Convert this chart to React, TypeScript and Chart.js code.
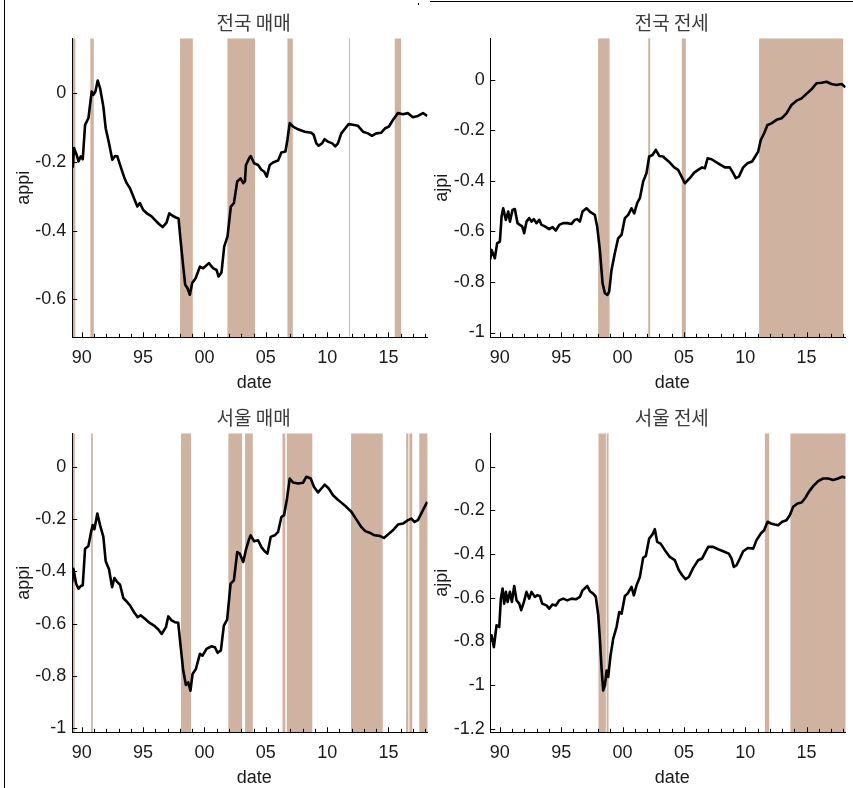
import React, { useEffect, useRef } from 'react';
import { Chart, registerables } from 'chart.js';

Chart.register(...registerables);

// ---------- shared axis data ----------
const X_MIN = 1989.22;
const X_MAX = 2018.18;
const xTickValues = [1990, 1995, 2000, 2005, 2010, 2015];
const xTickLabels = ['90', '95', '00', '05', '10', '15'];
const xMinorTickValues = [
  1990, 1991, 1992, 1993, 1994, 1995, 1996, 1997, 1998, 1999, 2000, 2001, 2002, 2003, 2004,
  2005, 2006, 2007, 2008, 2009, 2010, 2011, 2012, 2013, 2014, 2015, 2016, 2017, 2018,
];
const xAxisLabel = 'date';

// ---------- panel 1: 전국 매매 ----------
const nationalSaleTitle = '전국 매매';
const nationalSaleYLabel = 'appi';
const nationalSaleYTicks = [0, -0.2, -0.4, -0.6];
const nationalSaleYTickLabels = ['0', '-0.2', '-0.4', '-0.6'];
const nationalSaleYRange = [-0.711, 0.16];
const nationalSaleYears = [
  1989.22, 1989.27, 1989.37, 1989.59, 1989.73, 1989.92, 1990.08, 1990.27, 1990.54, 1990.81,
  1990.95, 1991.11, 1991.3, 1991.49, 1991.76, 1991.95, 1992.22, 1992.49, 1992.71, 1992.9,
  1993.12, 1993.44, 1993.66, 1993.93, 1994.2, 1994.53, 1994.74, 1995.01, 1995.34, 1995.69,
  1995.96, 1996.29, 1996.59, 1996.91, 1997.13, 1997.4, 1997.67, 1997.89, 1998.05, 1998.27,
  1998.43, 1998.62, 1998.81, 1999.0, 1999.28, 1999.63, 1999.9, 2000.36, 2000.72, 2000.99,
  2001.15, 2001.39, 2001.61, 2001.88, 2002.15, 2002.4, 2002.67, 2002.94, 2003.16, 2003.3,
  2003.38, 2003.65, 2003.77, 2004.05, 2004.37, 2004.64, 2004.86, 2005.08, 2005.32, 2005.59,
  2006.0, 2006.27, 2006.6, 2006.76, 2006.95, 2007.22, 2007.63, 2008.17, 2008.71, 2008.9,
  2009.12, 2009.31, 2009.58, 2009.79, 2010.06, 2010.42, 2010.66, 2010.88, 2011.15, 2011.42,
  2011.75, 2012.1, 2012.51, 2012.92, 2013.33, 2013.65, 2014.0, 2014.41, 2014.74, 2015.04,
  2015.36, 2015.77, 2016.18, 2016.59, 2016.99, 2017.4, 2017.81, 2018.16,
];
const nationalSaleValues = [
  -0.21, -0.214, -0.16, -0.18, -0.199, -0.184, -0.192, -0.092, -0.073, 0.005,
  -0.005, 0.005, 0.037, 0.015, -0.039, -0.102, -0.146, -0.194, -0.183, -0.184,
  -0.209, -0.243, -0.262, -0.277, -0.301, -0.33, -0.32, -0.34, -0.351, -0.359,
  -0.369, -0.381, -0.39, -0.377, -0.35, -0.357, -0.362, -0.365, -0.427, -0.505,
  -0.558, -0.568, -0.587, -0.553, -0.539, -0.505, -0.51, -0.495, -0.51, -0.515,
  -0.534, -0.522, -0.447, -0.417, -0.33, -0.32, -0.257, -0.248, -0.262, -0.257,
  -0.209, -0.189, -0.183, -0.204, -0.209, -0.223, -0.228, -0.243, -0.209, -0.202,
  -0.196, -0.173, -0.17, -0.136, -0.087, -0.097, -0.105, -0.112, -0.115, -0.121,
  -0.146, -0.153, -0.146, -0.134, -0.141, -0.146, -0.155, -0.146, -0.117, -0.105,
  -0.09, -0.092, -0.095, -0.112, -0.117, -0.124, -0.117, -0.115, -0.102, -0.097,
  -0.078, -0.058, -0.061, -0.058, -0.07, -0.066, -0.058, -0.066,
];
const nationalSaleShades = [
  [1989.2, 1989.48], [1990.7, 1990.98], [1998.01, 1999.05], [2001.87, 2004.12],
  [2006.76, 2007.2], [2011.79, 2011.86], [2015.51, 2016.02],
];

// ---------- panel 2: 전국 전세 ----------
const nationalJeonseTitle = '전국 전세';
const nationalJeonseYLabel = 'ajpi';
const nationalJeonseYTicks = [0, -0.2, -0.4, -0.6, -0.8, -1];
const nationalJeonseYTickLabels = ['0', '-0.2', '-0.4', '-0.6', '-0.8', '-1'];
const nationalJeonseYRange = [-1.019, 0.165];
const nationalJeonseYears = [
  1989.22, 1989.32, 1989.59, 1989.78, 1990.0, 1990.14, 1990.27, 1990.49, 1990.68, 1990.82,
  1991.03, 1991.22, 1991.44, 1991.63, 1991.82, 1991.98, 1992.17, 1992.39, 1992.58, 1992.77,
  1992.99, 1993.21, 1993.4, 1993.67, 1994.02, 1994.29, 1994.56, 1994.84, 1995.16, 1995.49,
  1995.84, 1996.11, 1996.3, 1996.52, 1996.74, 1997.06, 1997.33, 1997.74, 1997.93, 1998.15,
  1998.37, 1998.56, 1998.77, 1998.91, 1999.1, 1999.37, 1999.64, 1999.92, 2000.19, 2000.46,
  2000.73, 2000.95, 2001.19, 2001.41, 2001.68, 2001.95, 2002.17, 2002.44, 2002.71, 2002.99,
  2003.31, 2003.45, 2003.85, 2004.21, 2004.53, 2004.81, 2005.08, 2005.48, 2005.84, 2006.16,
  2006.49, 2006.71, 2006.93, 2007.25, 2007.79, 2008.34, 2008.74, 2009.02, 2009.23, 2009.48,
  2009.83, 2010.18, 2010.56, 2010.84, 2011.05, 2011.27, 2011.54, 2011.81, 2012.14, 2012.55,
  2012.96, 2013.36, 2013.77, 2014.18, 2014.59, 2014.99, 2015.4, 2015.81, 2016.22, 2016.62,
  2017.03, 2017.44, 2017.85, 2018.17,
];
const nationalJeonseValues = [
  -0.71, -0.673, -0.706, -0.646, -0.64, -0.541, -0.508, -0.554, -0.521, -0.561,
  -0.515, -0.511, -0.567, -0.574, -0.58, -0.607, -0.561, -0.547, -0.561, -0.551,
  -0.567, -0.554, -0.574, -0.58, -0.591, -0.583, -0.596, -0.574, -0.567, -0.567,
  -0.57, -0.554, -0.551, -0.561, -0.521, -0.508, -0.521, -0.534, -0.58, -0.673,
  -0.805, -0.844, -0.851, -0.838, -0.752, -0.686, -0.627, -0.613, -0.547, -0.534,
  -0.508, -0.528, -0.488, -0.468, -0.402, -0.369, -0.303, -0.297, -0.277, -0.301,
  -0.303, -0.31, -0.327, -0.346, -0.356, -0.383, -0.409, -0.389, -0.367, -0.356,
  -0.346, -0.35, -0.31, -0.314, -0.33, -0.346, -0.346, -0.369, -0.389, -0.383,
  -0.346, -0.33, -0.323, -0.301, -0.284, -0.237, -0.211, -0.178, -0.172, -0.158,
  -0.152, -0.132, -0.099, -0.082, -0.073, -0.055, -0.037, -0.013, -0.011, -0.007,
  -0.016, -0.02, -0.016, -0.029,
];
const nationalJeonseShades = [
  [1998.01, 1998.94], [2002.09, 2002.25], [2004.83, 2005.16], [2011.13, 2017.98],
];

// ---------- panel 3: 서울 매매 ----------
const seoulSaleTitle = '서울 매매';
const seoulSaleYLabel = 'appi';
const seoulSaleYTicks = [0, -0.2, -0.4, -0.6, -0.8, -1];
const seoulSaleYTickLabels = ['0', '-0.2', '-0.4', '-0.6', '-0.8', '-1'];
const seoulSaleYRange = [-1.015, 0.128];
const seoulSaleYears = [
  1989.22, 1989.32, 1989.54, 1989.73, 1989.92, 1990.08, 1990.27, 1990.54, 1990.76, 1990.89,
  1991.03, 1991.27, 1991.49, 1991.76, 1991.95, 1992.22, 1992.47, 1992.66, 1992.9, 1993.12,
  1993.39, 1993.66, 1993.93, 1994.26, 1994.56, 1994.8, 1995.15, 1995.51, 1995.89, 1996.24,
  1996.51, 1996.86, 1997.05, 1997.32, 1997.59, 1997.86, 1998.05, 1998.27, 1998.49, 1998.68,
  1998.86, 1999.03, 1999.3, 1999.63, 1999.84, 2000.17, 2000.58, 2000.85, 2001.07, 2001.34,
  2001.58, 2001.85, 2002.13, 2002.4, 2002.67, 2002.88, 2003.16, 2003.37, 2003.65, 2003.77,
  2004.05, 2004.37, 2004.64, 2004.91, 2005.13, 2005.4, 2005.73, 2006.0, 2006.27, 2006.49,
  2006.73, 2006.95, 2007.22, 2007.63, 2008.03, 2008.31, 2008.66, 2008.93, 2009.26, 2009.53,
  2009.8, 2010.13, 2010.48, 2010.83, 2011.16, 2011.56, 2011.97, 2012.38, 2012.78, 2013.11,
  2013.46, 2013.87, 2014.28, 2014.63, 2014.96, 2015.36, 2015.77, 2016.18, 2016.59, 2016.86,
  2017.13, 2017.4, 2017.81, 2018.16,
];
const seoulSaleValues = [
  -0.441, -0.39, -0.447, -0.466, -0.456, -0.453, -0.313, -0.303, -0.249, -0.223,
  -0.239, -0.179, -0.223, -0.268, -0.361, -0.392, -0.46, -0.425, -0.441, -0.451,
  -0.502, -0.515, -0.53, -0.556, -0.575, -0.568, -0.581, -0.596, -0.607, -0.622,
  -0.639, -0.613, -0.572, -0.587, -0.594, -0.596, -0.683, -0.779, -0.834, -0.824,
  -0.856, -0.792, -0.773, -0.715, -0.722, -0.696, -0.686, -0.69, -0.711, -0.702,
  -0.607, -0.584, -0.447, -0.434, -0.326, -0.332, -0.364, -0.319, -0.275, -0.262,
  -0.285, -0.281, -0.307, -0.323, -0.332, -0.268, -0.262, -0.249, -0.192, -0.185,
  -0.121, -0.045, -0.06, -0.064, -0.061, -0.038, -0.045, -0.077, -0.098, -0.083,
  -0.068, -0.083, -0.109, -0.124, -0.137, -0.153, -0.172, -0.201, -0.23, -0.246,
  -0.252, -0.262, -0.264, -0.272, -0.259, -0.243, -0.221, -0.217, -0.204, -0.198,
  -0.211, -0.204, -0.166, -0.134,
];
const seoulSaleShades = [
  [1989.27, 1989.43], [1990.76, 1990.9], [1998.09, 1998.91], [2001.95, 2003.07],
  [2003.31, 2003.94], [2006.36, 2006.59], [2006.71, 2008.79], [2011.95, 2014.53],
  [2016.44, 2016.62], [2016.7, 2016.94], [2017.51, 2018.2],
];

// ---------- panel 4: 서울 전세 ----------
const seoulJeonseTitle = '서울 전세';
const seoulJeonseYLabel = 'ajpi';
const seoulJeonseYTicks = [0, -0.2, -0.4, -0.6, -0.8, -1, -1.2];
const seoulJeonseYTickLabels = ['0', '-0.2', '-0.4', '-0.6', '-0.8', '-1', '-1.2'];
const seoulJeonseYRange = [-1.216, 0.153];
const seoulJeonseYears = [
  1989.22, 1989.32, 1989.51, 1989.73, 1989.95, 1990.08, 1990.22, 1990.35, 1990.49, 1990.63,
  1990.82, 1990.98, 1991.17, 1991.36, 1991.58, 1991.74, 1991.96, 1992.17, 1992.39, 1992.58,
  1992.85, 1993.04, 1993.26, 1993.45, 1993.8, 1994.02, 1994.29, 1994.56, 1994.84, 1995.16,
  1995.49, 1995.84, 1996.19, 1996.52, 1996.74, 1997.12, 1997.34, 1997.61, 1997.82, 1998.02,
  1998.15, 1998.29, 1998.42, 1998.56, 1998.7, 1998.83, 1999.02, 1999.24, 1999.51, 1999.73,
  1999.92, 2000.19, 2000.41, 2000.73, 2000.92, 2001.14, 2001.41, 2001.68, 2001.9, 2002.17,
  2002.44, 2002.63, 2002.82, 2003.1, 2003.45, 2003.85, 2004.26, 2004.59, 2004.86, 2005.13,
  2005.4, 2005.76, 2006.16, 2006.49, 2006.76, 2006.98, 2007.38, 2007.79, 2008.2, 2008.66,
  2008.88, 2009.07, 2009.29, 2009.56, 2009.83, 2010.24, 2010.65, 2010.92, 2011.27, 2011.54,
  2011.82, 2012.09, 2012.41, 2012.68, 2013.01, 2013.36, 2013.63, 2013.91, 2014.26, 2014.59,
  2014.91, 2015.18, 2015.54, 2015.94, 2016.35, 2016.76, 2017.17, 2017.57, 2017.9, 2018.17,
];
const seoulJeonseValues = [
  -0.8, -0.772, -0.826, -0.726, -0.734, -0.604, -0.558, -0.627, -0.573, -0.619,
  -0.573, -0.619, -0.546, -0.612, -0.627, -0.657, -0.619, -0.573, -0.604, -0.573,
  -0.596, -0.589, -0.592, -0.627, -0.635, -0.65, -0.631, -0.635, -0.612, -0.604,
  -0.612, -0.604, -0.607, -0.596, -0.566, -0.546, -0.57, -0.581, -0.596, -0.68,
  -0.787, -0.925, -1.024, -1.001, -0.933, -0.963, -0.864, -0.787, -0.734, -0.665,
  -0.673, -0.592, -0.581, -0.55, -0.589, -0.543, -0.505, -0.417, -0.408, -0.329,
  -0.31, -0.286, -0.344, -0.352, -0.382, -0.413, -0.428, -0.474, -0.497, -0.515,
  -0.505, -0.463, -0.428, -0.42, -0.39, -0.367, -0.367, -0.378, -0.387, -0.398,
  -0.42, -0.459, -0.451, -0.42, -0.387, -0.372, -0.375, -0.336, -0.306, -0.291,
  -0.252, -0.26, -0.265, -0.268, -0.252, -0.245, -0.222, -0.183, -0.168, -0.164,
  -0.142, -0.115, -0.089, -0.066, -0.054, -0.054, -0.061, -0.054, -0.046, -0.05,
];
const seoulJeonseShades = [
  [1998.04, 1998.64], [1998.7, 1998.86], [2011.6, 2011.95], [2013.68, 2018.2],
];

// ---------- styling / layout ----------
const SHADE_COLOR = '#cfb3a0';
const LINE_COLOR = '#000000';
const TEXT_COLOR = '#1a1a1a';
const TITLE_COLOR = '#3a3a3a';
const NUM_FONT = '"Liberation Sans", Arial, Helvetica, sans-serif';
const CJK_FONT = '"Noto Sans CJK KR", "Noto Sans CJK SC", sans-serif';
const CANVAS_H = 393;
const PLOT_TOP = 38.3;
const PLOT_H = 299;

type PanelCfg = {
  title: string;
  yLabel: string;
  years: number[];
  values: number[];
  shades: number[][];
  yTicks: number[];
  yTickLabels: string[];
  yRange: number[];
  left: number;
  top: number;
  width: number;
  yWidth: number;
  padRight: number;
  yTickPad: number;
};

const panels: PanelCfg[] = [
  {
    title: nationalSaleTitle, yLabel: nationalSaleYLabel, years: nationalSaleYears,
    values: nationalSaleValues, shades: nationalSaleShades, yTicks: nationalSaleYTicks,
    yTickLabels: nationalSaleYTickLabels, yRange: nationalSaleYRange,
    left: 0, top: 0, width: 430, yWidth: 72.2, padRight: 2.5, yTickPad: 6,
  },
  {
    title: nationalJeonseTitle, yLabel: nationalJeonseYLabel, years: nationalJeonseYears,
    values: nationalJeonseValues, shades: nationalJeonseShades, yTicks: nationalJeonseYTicks,
    yTickLabels: nationalJeonseYTickLabels, yRange: nationalJeonseYRange,
    left: 430, top: 0, width: 423, yWidth: 60.3, padRight: 7.4, yTickPad: 5.5,
  },
  {
    title: seoulSaleTitle, yLabel: seoulSaleYLabel, years: seoulSaleYears,
    values: seoulSaleValues, shades: seoulSaleShades, yTicks: seoulSaleYTicks,
    yTickLabels: seoulSaleYTickLabels, yRange: seoulSaleYRange,
    left: 0, top: 395, width: 430, yWidth: 72.2, padRight: 2.5, yTickPad: 6,
  },
  {
    title: seoulJeonseTitle, yLabel: seoulJeonseYLabel, years: seoulJeonseYears,
    values: seoulJeonseValues, shades: seoulJeonseShades, yTicks: seoulJeonseYTicks,
    yTickLabels: seoulJeonseYTickLabels, yRange: seoulJeonseYRange,
    left: 430, top: 395, width: 423, yWidth: 60.3, padRight: 7.4, yTickPad: 5.5,
  },
];

function Panel({ cfg }: { cfg: PanelCfg }) {
  const ref = useRef<HTMLCanvasElement | null>(null);

  useEffect(() => {
    if (!ref.current) return;

    const shadePlugin = {
      id: 'shadeBands',
      beforeDatasetsDraw(chart: any) {
        const { ctx, chartArea } = chart;
        const xs = chart.scales.x;
        ctx.save();
        ctx.beginPath();
        ctx.rect(chartArea.left, chartArea.top, chartArea.right - chartArea.left, chartArea.bottom - chartArea.top);
        ctx.clip();
        ctx.fillStyle = SHADE_COLOR;
        cfg.shades.forEach(([a, b]) => {
          const x1 = xs.getPixelForValue(a);
          const x2 = xs.getPixelForValue(b);
          ctx.fillRect(x1, chartArea.top, Math.max(0.8, x2 - x1), chartArea.bottom - chartArea.top);
        });
        ctx.restore();
      },
    };

    const decorPlugin = {
      id: 'matlabDecor',
      afterDraw(chart: any) {
        const { ctx, chartArea } = chart;
        const xs = chart.scales.x;
        const ys = chart.scales.y;
        const L = chartArea.left;
        const R = chartArea.right;
        const T = chartArea.top;
        const B = chartArea.bottom;
        ctx.save();
        ctx.strokeStyle = '#000';
        ctx.lineWidth = 1;
        ctx.beginPath();
        xMinorTickValues.forEach((v) => {
          const px = Math.round(xs.getPixelForValue(v)) + 0.5;
          if (px < L || px > R) return;
          const len = xTickValues.includes(v) ? 5 : 3.5;
          ctx.moveTo(px, B);
          ctx.lineTo(px, B - len);
        });
        cfg.yTicks.forEach((v) => {
          const py = Math.round(ys.getPixelForValue(v)) + 0.5;
          ctx.moveTo(L, py);
          ctx.lineTo(L + 5, py);
        });
        ctx.stroke();

        const cx = (L + R) / 2;
        ctx.textAlign = 'center';
        ctx.textBaseline = 'middle';
        ctx.fillStyle = TITLE_COLOR;
        ctx.font = `19px ${CJK_FONT}`;
        ctx.fillText(cfg.title, cx + 3.8, T - 16);

        ctx.fillStyle = TEXT_COLOR;
        ctx.font = `18px ${NUM_FONT}`;
        ctx.fillText(xAxisLabel, cx + 4.3, B + 45.5);

        ctx.translate(L - 48.5, (T + B) / 2);
        ctx.rotate(-Math.PI / 2);
        ctx.fillText(cfg.yLabel, 0, 0);
        ctx.restore();
      },
    };

    const chart = new Chart(ref.current, {
      type: 'line',
      data: {
        datasets: [
          {
            data: cfg.years.map((x, i) => ({ x, y: cfg.values[i] })),
            borderColor: LINE_COLOR,
            borderWidth: 2.6,
            borderJoinStyle: 'round',
            pointRadius: 0,
            tension: 0,
            fill: false,
          },
        ],
      },
      options: {
        responsive: false,
        maintainAspectRatio: false,
        animation: false,
        devicePixelRatio: 1,
        events: [],
        layout: { padding: { top: PLOT_TOP, left: 0, right: cfg.padRight, bottom: 0 } },
        plugins: {
          legend: { display: false },
          tooltip: { enabled: false },
          title: { display: false },
        },
        scales: {
          x: {
            type: 'linear',
            min: X_MIN,
            max: X_MAX,
            grid: { display: false, drawTicks: false },
            border: { display: true, color: '#000', width: 1, z: 1 },
            ticks: {
              padding: 10,
              autoSkip: false,
              maxRotation: 0,
              color: TEXT_COLOR,
              font: { family: NUM_FONT, size: 18 },
              callback: (v: any) => {
                const i = xTickValues.indexOf(Number(v));
                return i >= 0 ? xTickLabels[i] : '';
              },
            },
            afterBuildTicks: (s: any) => {
              s.ticks = xTickValues.map((v) => ({ value: v }));
            },
            afterFit: (s: any) => {
              s.height = CANVAS_H - PLOT_TOP - PLOT_H;
            },
          },
          y: {
            type: 'linear',
            min: cfg.yRange[0],
            max: cfg.yRange[1],
            grid: { display: false, drawTicks: false },
            border: { display: true, color: '#000', width: 1, z: 1 },
            ticks: {
              padding: cfg.yTickPad,
              autoSkip: false,
              color: TEXT_COLOR,
              font: { family: NUM_FONT, size: 18 },
              callback: (v: any) => {
                const i = cfg.yTicks.indexOf(Number(v));
                return i >= 0 ? cfg.yTickLabels[i] : '';
              },
            },
            afterBuildTicks: (s: any) => {
              s.ticks = cfg.yTicks.map((v) => ({ value: v }));
            },
            afterFit: (s: any) => {
              s.width = cfg.yWidth;
            },
          },
        },
      },
      plugins: [shadePlugin, decorPlugin],
    } as any);

    return () => chart.destroy();
  }, [cfg]);

  return (
    <canvas
      ref={ref}
      width={cfg.width}
      height={CANVAS_H}
      style={{ position: 'absolute', left: cfg.left, top: cfg.top, width: cfg.width, height: CANVAS_H }}
    />
  );
}

export default function App() {
  return (
    <div
      style={{
        position: 'absolute',
        left: 0,
        top: 0,
        width: 853,
        height: 788,
        overflow: 'hidden',
        background: '#ffffff',
      }}
    >
      {panels.map((p, i) => (
        <Panel key={i} cfg={p} />
      ))}
      <div style={{ position: 'absolute', left: 4, top: 0, width: 1, height: 788, background: '#000' }} />
      <div style={{ position: 'absolute', left: 430, top: 1, width: 423, height: 1, background: '#000' }} />
      <div style={{ position: 'absolute', left: 418, top: 3, width: 1, height: 2, background: '#000' }} />
    </div>
  );
}
